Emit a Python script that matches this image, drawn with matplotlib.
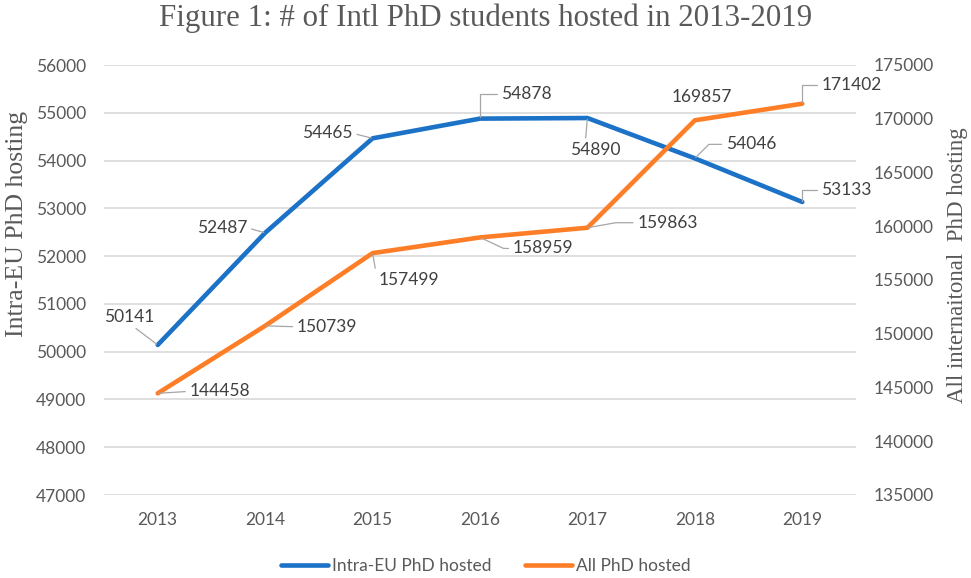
import matplotlib
matplotlib.use("Agg")
import matplotlib.pyplot as plt
from matplotlib.lines import Line2D

# chart data
YEARS = ["2013", "2014", "2015", "2016", "2017", "2018", "2019"]
INTRA_EU = [50141, 52487, 54465, 54878, 54890, 54046, 53133]
ALL_PHD = [144458, 150739, 157499, 158959, 159863, 169857, 171402]

LEFT_TICKS = list(range(47000, 56001, 1000))
RIGHT_TICKS = list(range(135000, 175001, 5000))

BLUE = "#1c72c6"
ORANGE = "#fd7e27"
TICK_GREY = "#595959"
LABEL_DARK = "#404040"
LEADER = "#a6a6a6"
GRID = "#d9d9d9"

SANS = ["Lato", "DejaVu Sans"]
SERIF = ["Liberation Serif", "DejaVu Serif"]

# label placement (pixel offsets from the point, text centre) + leader style
BLUE_LABELS = [
    ((-29, 28), (0.55, 0.0), "arc3"),
    ((-43, 5), (1.0, 0.5), "arc3"),
    ((-45, 5), (1.0, 0.5), "arc3"),
    ((46, 25), (0.0, 0.5), "angle,angleA=0,angleB=90,rad=0"),
    ((8, -32), (0.3, 1.0), "arc3"),
    ((56, 14), (0.0, 0.5), "angle,angleA=0,angleB=45,rad=0"),
    ((44, 12), (0.0, 0.5), "angle,angleA=0,angleB=90,rad=0"),
]
ORANGE_LABELS = [
    ((62, 2), (0.0, 0.5), "arc3"),
    ((62, -1), (0.0, 0.5), "arc3"),
    ((36, -27), (0.0, 0.5), "angle,angleA=0,angleB=100,rad=0"),
    ((63, -11), (0.0, 0.5), "angle,angleA=0,angleB=-25,rad=0"),
    ((80, 5), (0.0, 0.5), "angle,angleA=0,angleB=10,rad=0"),
    ((7, 23), None, None),
    ((49, 19), (0.0, 0.5), "angle,angleA=0,angleB=90,rad=0"),
]


def add_labels(axis, values, placements):
    for i, (val, (off, relpos, conn)) in enumerate(zip(values, placements)):
        arrow = None
        if conn is not None:
            arrow = dict(
                arrowstyle="-",
                color=LEADER,
                lw=0.9,
                shrinkA=1,
                shrinkB=1,
                relpos=relpos,
                connectionstyle=conn,
            )
        axis.annotate(
            f"{val}",
            xy=(i, val),
            xytext=off,
            textcoords="offset pixels",
            ha="center",
            va="center",
            fontsize=12.5,
            family=SANS,
            color=LABEL_DARK,
            arrowprops=arrow,
            zorder=5,
        )


fig = plt.figure(figsize=(9.71, 5.78), dpi=100)
ax = fig.add_axes([104 / 971, 1 - 495 / 578, 752 / 971, 430 / 578])
ax2 = ax.twinx()

x = list(range(len(YEARS)))
ax.plot(x, INTRA_EU, color=BLUE, lw=3.3, solid_capstyle="round", solid_joinstyle="round", zorder=3)
ax2.plot(x, ALL_PHD, color=ORANGE, lw=3.3, solid_capstyle="round", solid_joinstyle="round", zorder=3)

ax.set_xlim(-0.5, len(YEARS) - 0.5)
ax.set_ylim(LEFT_TICKS[0], LEFT_TICKS[-1])
ax2.set_ylim(RIGHT_TICKS[0], RIGHT_TICKS[-1])

ax.set_xticks(x)
ax.set_xticklabels(YEARS)
ax.set_yticks(LEFT_TICKS)
ax.set_yticklabels([str(t) for t in LEFT_TICKS])
ax2.set_yticks(RIGHT_TICKS)
ax2.set_yticklabels([str(t) for t in RIGHT_TICKS])

for a in (ax, ax2):
    for spine in a.spines.values():
        spine.set_visible(False)
    for lbl in a.get_xticklabels() + a.get_yticklabels():
        lbl.set_family(SANS)
        lbl.set_fontsize(12.5)
        lbl.set_color(TICK_GREY)

ax.tick_params(axis="y", length=0, pad=13)
ax.tick_params(axis="x", length=0, pad=12)
ax2.tick_params(axis="y", length=0, pad=13)

ax.grid(True, axis="y", color=GRID, lw=1.2)
ax.set_axisbelow(True)

add_labels(ax, INTRA_EU, BLUE_LABELS)
add_labels(ax2, ALL_PHD, ORANGE_LABELS)

# title and axis titles
fig.text(0.5, 1 - 18 / 578, "Figure 1: # of Intl PhD students hosted in 2013-2019",
         ha="center", va="center", fontsize=22.2, family=SERIF, color=TICK_GREY)
fig.text(17 / 971, 1 - 224 / 578, "Intra-EU PhD hosting", rotation=90,
         ha="center", va="center", fontsize=18.5, family=SERIF, color=TICK_GREY)
fig.text(957 / 971, 1 - 265 / 578, "All internaitonal  PhD hosting", rotation=90,
         ha="center", va="center", fontsize=16.5, family=SERIF, color=TICK_GREY)

# legend
handles = [
    Line2D([], [], color=BLUE, lw=3.3, solid_capstyle="round", label="Intra-EU PhD hosted"),
    Line2D([], [], color=ORANGE, lw=3.3, solid_capstyle="round", label="All PhD hosted"),
]
fig.legend(
    handles=handles,
    loc="center",
    bbox_to_anchor=(486 / 971, 1 - 566 / 578),
    ncol=2,
    frameon=False,
    prop={"family": SANS, "size": 12.5},
    labelcolor=TICK_GREY,
    handlelength=2.7,
    handletextpad=0.25,
    columnspacing=1.9,
)

fig.savefig("out.png", dpi=100)
plt.close(fig)
